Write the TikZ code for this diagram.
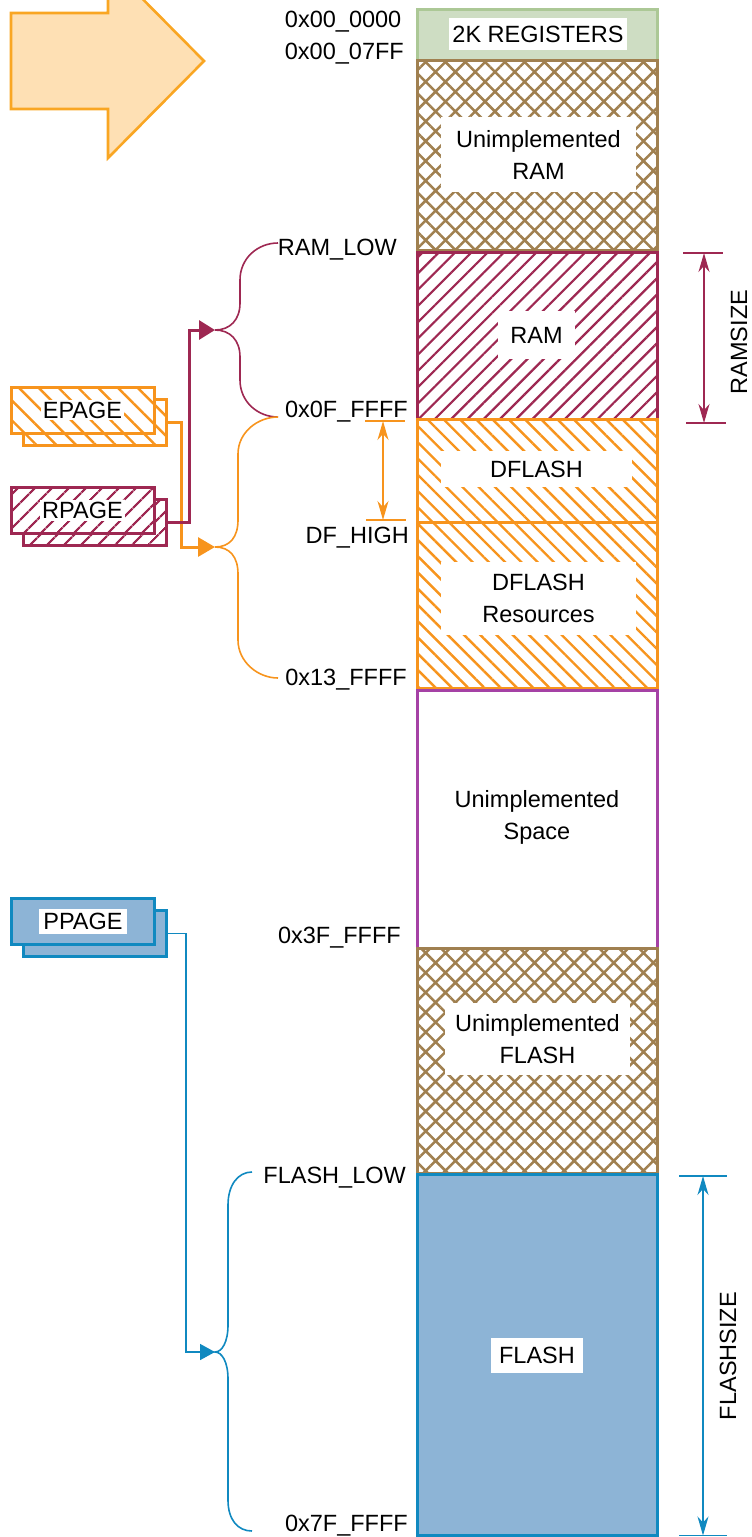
\documentclass[tikz,border=0pt]{standalone}
\usepackage{fontspec}
\setmainfont{Liberation Sans}
\usepackage{xcolor}
\usetikzlibrary{arrows.meta,patterns.meta}

\definecolor{regfill}{RGB}{206,221,195}
\definecolor{regline}{RGB}{172,200,150}
\definecolor{unimpl}{RGB}{160,128,80}
\definecolor{ramc}{RGB}{158,40,82}
\definecolor{dflc}{RGB}{247,148,29}
\definecolor{spacec}{RGB}{165,65,165}
\definecolor{flashline}{RGB}{16,137,192}
\definecolor{flashfill}{RGB}{141,180,214}
\definecolor{arrowfill}{RGB}{254,224,180}
\definecolor{arrowline}{RGB}{249,166,35}

\begin{document}
\begin{tikzpicture}[x=1pt,y=1pt,
	addr/.style={anchor=base east},
	tag/.style={fill=white, align=center},
	membox/.style={line width=3pt},
	pagebox/.style={draw, line width=3pt, minimum width=143pt, minimum height=46pt, preaction={fill=white}},
	dimline/.style={line width=1.6pt},
	dimarrow/.style={line width=1.6pt, {Stealth[length=19pt,width=11pt,inset=6pt]}-{Stealth[length=19pt,width=11pt,inset=6pt]}},
	brace/.style={line width=1.6pt}]
		\tikzstyle{every node}+=[inner sep=0pt, font=\fontsize{23.5}{32}\selectfont]
		\useasboundingbox (0,0) rectangle (752,-1537);
		% big arrow
		\draw [arrowline, fill=arrowfill, line width=2.6pt] (11,-13) -- (108,-13) -- (108,36) -- (204,-61) -- (108,-158) -- (108,-109) -- (11,-109) -- cycle;
		% memory column
		\draw [membox, regline, fill=regfill] (417,-9) rectangle (657,-60);
		\draw [membox, unimpl, pattern={Hatch[angle=45,distance=14pt,line width=2.5pt]}, pattern color=unimpl] (417,-60) rectangle (657,-250);
		\draw [membox, ramc, pattern={Lines[angle=45,distance=11.5pt,line width=2.2pt]}, pattern color=ramc] (417,-252) rectangle (657,-419);
		\draw [membox, dflc, pattern={Lines[angle=-45,distance=11.5pt,line width=2.4pt]}, pattern color=dflc] (417,-419) rectangle (657,-522);
		\draw [membox, dflc, pattern={Lines[angle=-45,distance=11.5pt,line width=2.4pt]}, pattern color=dflc] (417,-522) rectangle (657,-688);
		\draw [membox, spacec, fill=white] (417,-690) rectangle (657,-948);
		\draw [membox, unimpl, pattern={Hatch[angle=45,distance=14pt,line width=2.5pt]}, pattern color=unimpl] (417,-948) rectangle (657,-1173);
		\draw [membox, flashline, fill=flashfill] (417,-1174) rectangle (657,-1535);
		% region names
		\node [tag, minimum width=178pt, minimum height=32pt] (regs) at (538,-34) {2K REGISTERS};
		\node [tag, minimum width=195pt, minimum height=75pt] (uram) at (538.5,-154.5) {Unimplemented\\RAM};
		\node [tag, minimum width=77pt, minimum height=48pt] (ram) at (536.5,-335) {RAM};
		\node [tag, minimum width=191pt, minimum height=36pt] (dflash) at (536.5,-469) {DFLASH};
		\node [tag, minimum width=195pt, minimum height=73pt] (dres) at (538.5,-598.5) {DFLASH\\Resources};
		\node [align=center] (uspace) at (537,-817.5) {Unimplemented\\Space};
		\node [tag, minimum width=185pt, minimum height=72pt] (uflash) at (537.5,-1039) {Unimplemented\\FLASH};
		\node [tag, minimum width=92pt, minimum height=35pt] (flash) at (537,-1355.5) {FLASH};
		% addresses
		\node [addr] (a0000) at (401.5,-27.4) {0x00\_0000};
		\node [addr] (a07ff) at (404,-59.4) {0x00\_07FF};
		\node [addr] (ramlow) at (397,-255.4) {RAM\_LOW};
		\node [addr] (a0fff) at (408,-417.4) {0x0F\_FFFF};
		\node [addr] (dfhigh) at (409,-543.4) {DF\_HIGH};
		\node [addr] (a13ff) at (407,-685.4) {0x13\_FFFF};
		\node [addr] (a3fff) at (401,-943.4) {0x3F\_FFFF};
		\node [addr] (flashlow) at (406,-1183.4) {FLASH\_LOW};
		\node [addr] (a7fff) at (408,-1531.4) {0x7F\_FFFF};
		% sizes
		\coordinate (ramtop) at (704,-253);
		\coordinate (rambot) at (704,-423);
		\draw [dimline, ramc] (683,-253) -- (723,-253);
		\draw [dimline, ramc] (686,-423) -- (726,-423);
		\draw [dimarrow, ramc] (ramtop) -- (rambot);
		\node [rotate=90] (ramsize) at (739,-342) {RAMSIZE};
		\coordinate (flashtop) at (703,-1176);
		\coordinate (flashbot) at (703,-1535.5);
		\draw [dimline, flashline] (679,-1176) -- (727,-1176);
		\draw [dimline, flashline] (679,-1535.5) -- (727,-1535.5);
		\draw [dimarrow, flashline] (flashtop) -- (flashbot);
		\node [rotate=90] (flashsize) at (728,-1356) {FLASHSIZE};
		\coordinate (dftop) at (383,-421);
		\coordinate (dfbot) at (383,-520);
		\draw [dimline, dflc] (365,-421) -- (405,-421);
		\draw [dimline, dflc] (366,-520) -- (406,-520);
		\draw [dimarrow, dflc] (dftop) -- (dfbot);
		% page registers
		\node [pagebox, draw=dflc, pattern={Lines[angle=-45,distance=14pt,line width=2.4pt]}, pattern color=dflc] (epageB) at (94.5,-422.5) {};
		\node [pagebox, draw=dflc, pattern={Lines[angle=-45,distance=14pt,line width=2.4pt]}, pattern color=dflc] (epage) at (82.5,-410) {};
		\node [tag, inner sep=2pt] (epagetxt) at (epage) {EPAGE};
		\node [pagebox, draw=ramc, pattern={Lines[angle=45,distance=13pt,line width=2.4pt]}, pattern color=ramc] (rpageB) at (94.5,-522.5) {};
		\node [pagebox, draw=ramc, pattern={Lines[angle=45,distance=13pt,line width=2.4pt]}, pattern color=ramc] (rpage) at (82.5,-510.5) {};
		\node [tag, inner sep=2pt] (rpagetxt) at (rpage) {RPAGE};
		\node [pagebox, draw=flashline, fill=flashfill] (ppageB) at (95,-933.5) {};
		\node [pagebox, draw=flashline, fill=flashfill] (ppage) at (83,-921.5) {};
		\node [tag, inner sep=4pt] (ppagetxt) at (ppage) {PPAGE};
		% braces
		\coordinate (ramtip) at (215,-330);
		\coordinate (dftip) at (215,-547);
		\coordinate (flashtip) at (215,-1352);
		\draw [brace, ramc] (278,-243) .. controls (258,-243) and (240,-258) .. (240,-280) -- (240,-303) .. controls (240,-320) and (230,-330) .. (ramtip) .. controls (230,-330) and (240,-340) .. (240,-357) -- (240,-380) .. controls (240,-402) and (258,-417) .. (278,-417);
		\draw [brace, dflc] (278,-417) .. controls (258,-417) and (238,-432) .. (238,-454) -- (238,-520) .. controls (238,-537) and (230,-547) .. (dftip) .. controls (230,-547) and (238,-557) .. (238,-574) -- (238,-640) .. controls (238,-662) and (258,-678) .. (278,-678);
		\draw [brace, flashline] (252,-1172) .. controls (238,-1172) and (228,-1185) .. (228,-1205) -- (228,-1325) .. controls (228,-1342) and (222,-1352) .. (flashtip) .. controls (222,-1352) and (228,-1362) .. (228,-1379) -- (228,-1500) .. controls (228,-1520) and (238,-1531) .. (252,-1531);
		% page connectors
		\draw [dflc, line width=3pt, -{Triangle[length=17pt,width=19pt]}] (epageB.east) -- ++(14,0) |- (dftip);
		\draw [ramc, line width=3pt, -{Triangle[length=16pt,width=19pt]}] (rpageB.east) -- ++(22,0) |- (ramtip);
		\draw [flashline, line width=1.6pt, -{Triangle[length=15pt,width=16pt]}] (ppageB.east) -- ++(18,0) |- (flashtip);
\end{tikzpicture}
\end{document}
